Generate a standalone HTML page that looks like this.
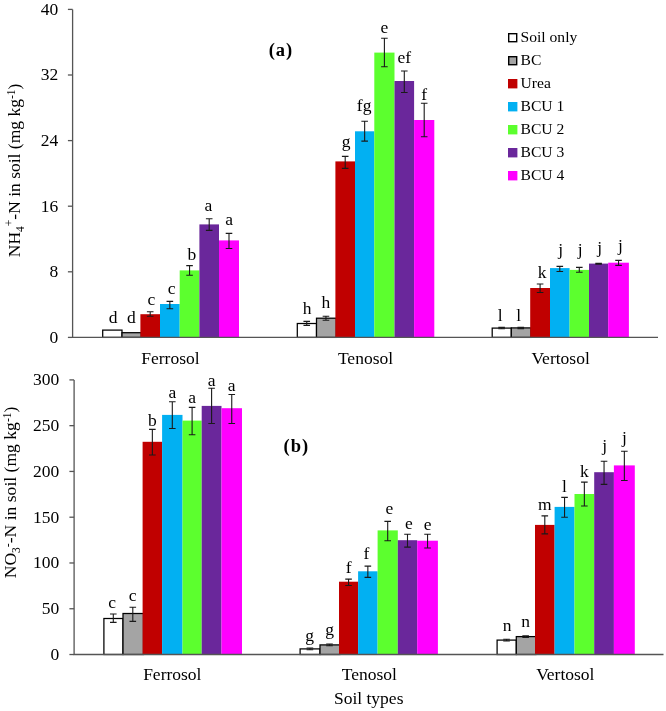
<!DOCTYPE html>
<html><head><meta charset="utf-8"><style>
html,body{margin:0;padding:0;background:#fff;}
body{width:666px;height:711px;overflow:hidden;}
svg{display:block;font-family:"Liberation Serif",serif;will-change:transform;}
</style></head><body>
<svg width="666" height="711" viewBox="0 0 666 711">
<rect width="666" height="711" fill="#fff"/>
<g font-size="17.5" fill="#000">
<rect x="102.70" y="330.10" width="19.30" height="7.30" fill="#FFFFFF" stroke="#000" stroke-width="1.25"/>
<rect x="122.00" y="332.70" width="19.30" height="4.70" fill="#A4A4A4" stroke="#000" stroke-width="1.25"/>
<rect x="140.40" y="314.20" width="19.60" height="23.20" fill="#C00000"/>
<rect x="160.00" y="304.00" width="19.70" height="33.40" fill="#02B0F2"/>
<rect x="179.70" y="270.40" width="19.70" height="67.00" fill="#5CFF2E"/>
<rect x="199.40" y="224.40" width="19.60" height="113.00" fill="#6A279B"/>
<rect x="219.00" y="240.40" width="20.00" height="97.00" fill="#FF00FF"/>
<path d="M150.20 311.80V316.20M146.90 311.80H153.50M146.90 316.20H153.50" stroke="#1a1a1a" stroke-width="1.1" fill="none"/>
<path d="M169.85 301.40V308.80M166.55 301.40H173.15M166.55 308.80H173.15" stroke="#1a1a1a" stroke-width="1.1" fill="none"/>
<path d="M189.55 265.60V275.20M186.25 265.60H192.85M186.25 275.20H192.85" stroke="#1a1a1a" stroke-width="1.1" fill="none"/>
<path d="M209.20 218.80V230.40M205.90 218.80H212.50M205.90 230.40H212.50" stroke="#1a1a1a" stroke-width="1.1" fill="none"/>
<path d="M229.00 233.40V248.50M225.70 233.40H232.30M225.70 248.50H232.30" stroke="#1a1a1a" stroke-width="1.1" fill="none"/>
<rect x="297.30" y="323.50" width="19.20" height="13.90" fill="#FFFFFF" stroke="#000" stroke-width="1.25"/>
<rect x="316.50" y="318.20" width="19.80" height="19.20" fill="#A4A4A4" stroke="#000" stroke-width="1.25"/>
<rect x="335.40" y="161.40" width="19.60" height="176.00" fill="#C00000"/>
<rect x="355.00" y="131.30" width="19.30" height="206.10" fill="#02B0F2"/>
<rect x="374.30" y="52.60" width="20.20" height="284.80" fill="#5CFF2E"/>
<rect x="394.50" y="81.00" width="19.60" height="256.40" fill="#6A279B"/>
<rect x="414.10" y="120.00" width="20.20" height="217.40" fill="#FF00FF"/>
<path d="M306.75 321.40V325.40M303.45 321.40H310.05M303.45 325.40H310.05" stroke="#1a1a1a" stroke-width="1.1" fill="none"/>
<path d="M325.95 316.30V320.20M322.65 316.30H329.25M322.65 320.20H329.25" stroke="#1a1a1a" stroke-width="1.1" fill="none"/>
<path d="M345.20 156.40V168.40M341.90 156.40H348.50M341.90 168.40H348.50" stroke="#1a1a1a" stroke-width="1.1" fill="none"/>
<path d="M364.65 121.20V141.10M361.35 121.20H367.95M361.35 141.10H367.95" stroke="#1a1a1a" stroke-width="1.1" fill="none"/>
<path d="M384.40 38.20V66.70M381.10 38.20H387.70M381.10 66.70H387.70" stroke="#1a1a1a" stroke-width="1.1" fill="none"/>
<path d="M404.30 71.00V92.50M401.00 71.00H407.60M401.00 92.50H407.60" stroke="#1a1a1a" stroke-width="1.1" fill="none"/>
<path d="M424.20 103.30V136.80M420.90 103.30H427.50M420.90 136.80H427.50" stroke="#1a1a1a" stroke-width="1.1" fill="none"/>
<rect x="492.20" y="328.10" width="19.10" height="9.30" fill="#FFFFFF" stroke="#000" stroke-width="1.25"/>
<rect x="511.30" y="327.90" width="19.80" height="9.50" fill="#A4A4A4" stroke="#000" stroke-width="1.25"/>
<rect x="530.20" y="288.00" width="19.80" height="49.40" fill="#C00000"/>
<rect x="550.00" y="268.10" width="19.60" height="69.30" fill="#02B0F2"/>
<rect x="569.60" y="269.90" width="19.40" height="67.50" fill="#5CFF2E"/>
<rect x="589.00" y="263.60" width="19.20" height="73.80" fill="#6A279B"/>
<rect x="608.20" y="262.70" width="20.70" height="74.70" fill="#FF00FF"/>
<path d="M501.60 327.40V328.80M498.30 327.40H504.90M498.30 328.80H504.90" stroke="#1a1a1a" stroke-width="1.1" fill="none"/>
<path d="M520.75 327.40V328.60M517.45 327.40H524.05M517.45 328.60H524.05" stroke="#1a1a1a" stroke-width="1.1" fill="none"/>
<path d="M540.10 284.00V292.50M536.80 284.00H543.40M536.80 292.50H543.40" stroke="#1a1a1a" stroke-width="1.1" fill="none"/>
<path d="M559.80 266.40V271.50M556.50 266.40H563.10M556.50 271.50H563.10" stroke="#1a1a1a" stroke-width="1.1" fill="none"/>
<path d="M579.30 267.40V272.20M576.00 267.40H582.60M576.00 272.20H582.60" stroke="#1a1a1a" stroke-width="1.1" fill="none"/>
<path d="M598.60 263.20V264.20M595.30 263.20H601.90M595.30 264.20H601.90" stroke="#1a1a1a" stroke-width="1.1" fill="none"/>
<path d="M618.55 260.40V265.40M615.25 260.40H621.85M615.25 265.40H621.85" stroke="#1a1a1a" stroke-width="1.1" fill="none"/>
<text x="113.10" y="323.00" text-anchor="middle" font-size="17.5">d</text>
<text x="131.25" y="323.00" text-anchor="middle" font-size="17.5">d</text>
<text x="151.30" y="305.00" text-anchor="middle" font-size="17.5">c</text>
<text x="171.55" y="294.30" text-anchor="middle" font-size="17.5">c</text>
<text x="191.85" y="259.90" text-anchor="middle" font-size="17.5">b</text>
<text x="208.30" y="211.20" text-anchor="middle" font-size="17.5">a</text>
<text x="229.10" y="225.40" text-anchor="middle" font-size="17.5">a</text>
<text x="307.15" y="313.90" text-anchor="middle" font-size="17.5">h</text>
<text x="325.95" y="307.60" text-anchor="middle" font-size="17.5">h</text>
<text x="346.00" y="147.00" text-anchor="middle" font-size="17.5">g</text>
<text x="364.15" y="111.20" text-anchor="middle" font-size="17.5">fg</text>
<text x="384.40" y="32.70" text-anchor="middle" font-size="17.5">e</text>
<text x="404.30" y="62.60" text-anchor="middle" font-size="17.5">ef</text>
<text x="424.20" y="99.70" text-anchor="middle" font-size="17.5">f</text>
<text x="500.15" y="320.80" text-anchor="middle" font-size="17.5">l</text>
<text x="518.65" y="320.80" text-anchor="middle" font-size="17.5">l</text>
<text x="542.00" y="278.40" text-anchor="middle" font-size="17.5">k</text>
<text x="560.60" y="254.70" text-anchor="middle" font-size="17.5">j</text>
<text x="580.30" y="255.40" text-anchor="middle" font-size="17.5">j</text>
<text x="599.60" y="253.40" text-anchor="middle" font-size="17.5">j</text>
<text x="620.55" y="251.40" text-anchor="middle" font-size="17.5">j</text>
<path d="M72.6 9.4V337.4H658.0" stroke="#555555" stroke-width="1.3" fill="none"/>
<path d="M67.90 9.40H72.6" stroke="#555555" stroke-width="1.3"/>
<path d="M67.90 75.00H72.6" stroke="#555555" stroke-width="1.3"/>
<path d="M67.90 140.60H72.6" stroke="#555555" stroke-width="1.3"/>
<path d="M67.90 206.20H72.6" stroke="#555555" stroke-width="1.3"/>
<path d="M67.90 271.80H72.6" stroke="#555555" stroke-width="1.3"/>
<path d="M67.90 337.40H72.6" stroke="#555555" stroke-width="1.3"/>
<text x="58.2" y="14.80" text-anchor="end">40</text>
<text x="58.2" y="80.40" text-anchor="end">32</text>
<text x="58.2" y="146.00" text-anchor="end">24</text>
<text x="58.2" y="211.60" text-anchor="end">16</text>
<text x="58.2" y="277.20" text-anchor="end">8</text>
<text x="58.2" y="342.80" text-anchor="end">0</text>
<rect x="103.90" y="618.50" width="19.10" height="36.00" fill="#FFFFFF" stroke="#000" stroke-width="1.25"/>
<rect x="123.00" y="613.50" width="20.50" height="41.00" fill="#A4A4A4" stroke="#000" stroke-width="1.25"/>
<rect x="142.60" y="441.80" width="19.50" height="212.70" fill="#C00000"/>
<rect x="162.10" y="414.90" width="20.40" height="239.60" fill="#02B0F2"/>
<rect x="182.50" y="420.60" width="19.20" height="233.90" fill="#5CFF2E"/>
<rect x="201.70" y="405.90" width="19.80" height="248.60" fill="#6A279B"/>
<rect x="221.50" y="408.20" width="20.50" height="246.30" fill="#FF00FF"/>
<path d="M113.30 614.00V622.40M110.00 614.00H116.60M110.00 622.40H116.60" stroke="#1a1a1a" stroke-width="1.1" fill="none"/>
<path d="M132.80 607.20V621.40M129.50 607.20H136.10M129.50 621.40H136.10" stroke="#1a1a1a" stroke-width="1.1" fill="none"/>
<path d="M152.35 429.40V455.00M149.05 429.40H155.65M149.05 455.00H155.65" stroke="#1a1a1a" stroke-width="1.1" fill="none"/>
<path d="M172.30 401.70V428.50M169.00 401.70H175.60M169.00 428.50H175.60" stroke="#1a1a1a" stroke-width="1.1" fill="none"/>
<path d="M192.10 407.40V434.70M188.80 407.40H195.40M188.80 434.70H195.40" stroke="#1a1a1a" stroke-width="1.1" fill="none"/>
<path d="M211.60 388.30V423.50M208.30 388.30H214.90M208.30 423.50H214.90" stroke="#1a1a1a" stroke-width="1.1" fill="none"/>
<path d="M231.75 394.50V423.50M228.45 394.50H235.05M228.45 423.50H235.05" stroke="#1a1a1a" stroke-width="1.1" fill="none"/>
<rect x="300.10" y="648.90" width="19.90" height="5.60" fill="#FFFFFF" stroke="#000" stroke-width="1.25"/>
<rect x="320.00" y="644.90" width="19.90" height="9.60" fill="#A4A4A4" stroke="#000" stroke-width="1.25"/>
<rect x="339.00" y="581.70" width="19.10" height="72.80" fill="#C00000"/>
<rect x="358.10" y="571.30" width="19.50" height="83.20" fill="#02B0F2"/>
<rect x="377.60" y="530.40" width="20.20" height="124.10" fill="#5CFF2E"/>
<rect x="397.80" y="540.20" width="19.40" height="114.30" fill="#6A279B"/>
<rect x="417.20" y="540.70" width="20.70" height="113.80" fill="#FF00FF"/>
<path d="M309.90 648.00V649.80M306.60 648.00H313.20M306.60 649.80H313.20" stroke="#1a1a1a" stroke-width="1.1" fill="none"/>
<path d="M329.50 644.00V645.80M326.20 644.00H332.80M326.20 645.80H332.80" stroke="#1a1a1a" stroke-width="1.1" fill="none"/>
<path d="M348.55 579.10V585.50M345.25 579.10H351.85M345.25 585.50H351.85" stroke="#1a1a1a" stroke-width="1.1" fill="none"/>
<path d="M367.85 566.10V577.40M364.55 566.10H371.15M364.55 577.40H371.15" stroke="#1a1a1a" stroke-width="1.1" fill="none"/>
<path d="M387.70 521.40V540.70M384.40 521.40H391.00M384.40 540.70H391.00" stroke="#1a1a1a" stroke-width="1.1" fill="none"/>
<path d="M407.50 534.20V547.10M404.20 534.20H410.80M404.20 547.10H410.80" stroke="#1a1a1a" stroke-width="1.1" fill="none"/>
<path d="M427.55 534.20V548.00M424.25 534.20H430.85M424.25 548.00H430.85" stroke="#1a1a1a" stroke-width="1.1" fill="none"/>
<rect x="497.10" y="640.10" width="19.20" height="14.40" fill="#FFFFFF" stroke="#000" stroke-width="1.25"/>
<rect x="516.30" y="636.60" width="19.60" height="17.90" fill="#A4A4A4" stroke="#000" stroke-width="1.25"/>
<rect x="535.00" y="524.90" width="19.60" height="129.60" fill="#C00000"/>
<rect x="554.60" y="506.90" width="19.90" height="147.60" fill="#02B0F2"/>
<rect x="574.50" y="494.00" width="19.70" height="160.50" fill="#5CFF2E"/>
<rect x="594.20" y="472.20" width="19.70" height="182.30" fill="#6A279B"/>
<rect x="613.90" y="465.40" width="20.90" height="189.10" fill="#FF00FF"/>
<path d="M506.55 639.20V641.00M503.25 639.20H509.85M503.25 641.00H509.85" stroke="#1a1a1a" stroke-width="1.1" fill="none"/>
<path d="M525.65 635.80V637.40M522.35 635.80H528.95M522.35 637.40H528.95" stroke="#1a1a1a" stroke-width="1.1" fill="none"/>
<path d="M544.80 515.90V533.90M541.50 515.90H548.10M541.50 533.90H548.10" stroke="#1a1a1a" stroke-width="1.1" fill="none"/>
<path d="M564.55 497.40V517.30M561.25 497.40H567.85M561.25 517.30H567.85" stroke="#1a1a1a" stroke-width="1.1" fill="none"/>
<path d="M584.35 482.10V506.00M581.05 482.10H587.65M581.05 506.00H587.65" stroke="#1a1a1a" stroke-width="1.1" fill="none"/>
<path d="M604.05 461.30V484.40M600.75 461.30H607.35M600.75 484.40H607.35" stroke="#1a1a1a" stroke-width="1.1" fill="none"/>
<path d="M624.35 451.20V480.50M621.05 451.20H627.65M621.05 480.50H627.65" stroke="#1a1a1a" stroke-width="1.1" fill="none"/>
<text x="112.25" y="608.40" text-anchor="middle" font-size="17.5">c</text>
<text x="132.60" y="600.80" text-anchor="middle" font-size="17.5">c</text>
<text x="152.35" y="425.60" text-anchor="middle" font-size="17.5">b</text>
<text x="172.30" y="398.10" text-anchor="middle" font-size="17.5">a</text>
<text x="192.10" y="403.20" text-anchor="middle" font-size="17.5">a</text>
<text x="211.60" y="386.00" text-anchor="middle" font-size="17.5">a</text>
<text x="231.75" y="391.40" text-anchor="middle" font-size="17.5">a</text>
<text x="309.70" y="641.00" text-anchor="middle" font-size="17.5">g</text>
<text x="329.50" y="634.80" text-anchor="middle" font-size="17.5">g</text>
<text x="348.55" y="573.00" text-anchor="middle" font-size="17.5">f</text>
<text x="366.35" y="558.90" text-anchor="middle" font-size="17.5">f</text>
<text x="389.35" y="513.90" text-anchor="middle" font-size="17.5">e</text>
<text x="408.80" y="528.70" text-anchor="middle" font-size="17.5">e</text>
<text x="427.55" y="529.90" text-anchor="middle" font-size="17.5">e</text>
<text x="507.15" y="630.60" text-anchor="middle" font-size="17.5">n</text>
<text x="525.65" y="626.50" text-anchor="middle" font-size="17.5">n</text>
<text x="544.80" y="510.30" text-anchor="middle" font-size="17.5">m</text>
<text x="564.55" y="491.80" text-anchor="middle" font-size="17.5">l</text>
<text x="584.35" y="477.20" text-anchor="middle" font-size="17.5">k</text>
<text x="604.70" y="450.80" text-anchor="middle" font-size="17.5">j</text>
<text x="624.55" y="442.90" text-anchor="middle" font-size="17.5">j</text>
<path d="M74.1 379.9V654.5H663.5" stroke="#555555" stroke-width="1.3" fill="none"/>
<path d="M69.40 379.90H74.1" stroke="#555555" stroke-width="1.3"/>
<path d="M69.40 425.67H74.1" stroke="#555555" stroke-width="1.3"/>
<path d="M69.40 471.44H74.1" stroke="#555555" stroke-width="1.3"/>
<path d="M69.40 517.21H74.1" stroke="#555555" stroke-width="1.3"/>
<path d="M69.40 562.98H74.1" stroke="#555555" stroke-width="1.3"/>
<path d="M69.40 608.75H74.1" stroke="#555555" stroke-width="1.3"/>
<path d="M69.40 654.52H74.1" stroke="#555555" stroke-width="1.3"/>
<text x="59.2" y="385.30" text-anchor="end">300</text>
<text x="59.2" y="431.07" text-anchor="end">250</text>
<text x="59.2" y="476.84" text-anchor="end">200</text>
<text x="59.2" y="522.61" text-anchor="end">150</text>
<text x="59.2" y="568.38" text-anchor="end">100</text>
<text x="59.2" y="614.15" text-anchor="end">50</text>
<text x="59.2" y="659.92" text-anchor="end">0</text>
<text x="170.4" y="363.6" text-anchor="middle">Ferrosol</text>
<text x="365.5" y="363.6" text-anchor="middle">Tenosol</text>
<text x="560.6" y="363.6" text-anchor="middle">Vertosol</text>
<text x="172.3" y="680.4" text-anchor="middle">Ferrosol</text>
<text x="369.3" y="680.4" text-anchor="middle">Tenosol</text>
<text x="565.3" y="680.4" text-anchor="middle">Vertosol</text>
<text x="368.7" y="703.5" text-anchor="middle">Soil types</text>
<text x="281.0" y="55.8" text-anchor="middle" font-weight="bold" font-size="18.5" letter-spacing="1">(a)</text>
<text x="296.4" y="452.4" text-anchor="middle" font-weight="bold" font-size="18.5" letter-spacing="1">(b)</text>
<text transform="translate(20.3,257.2) rotate(-90)" font-size="17.5">NH<tspan font-size="11.5" dy="4">4</tspan><tspan font-size="11.5" dy="-11">+</tspan><tspan dy="7">-N in soil (mg kg</tspan><tspan font-size="11.5" dy="-5.5">-1</tspan><tspan dy="5.5">)</tspan></text>
<text transform="translate(16.2,578.3) rotate(-90)" font-size="17.6">NO<tspan font-size="11.5" dy="4">3</tspan><tspan font-size="11.5" dy="-9.5">-</tspan><tspan dy="5.5">-N in soil (mg kg</tspan><tspan font-size="11.5" dy="-5.5">-1</tspan><tspan dy="5.5">)</tspan></text>
</g>
<g font-size="15.6" fill="#000">
<rect x="508.7" y="33.7" width="8" height="8" fill="#FFFFFF" stroke="#000" stroke-width="1.4"/>
<text x="520.5" y="42.0">Soil only</text>
<rect x="508.7" y="56.7" width="8" height="8" fill="#A4A4A4" stroke="#000" stroke-width="1.4"/>
<text x="520.5" y="65.0">BC</text>
<rect x="508" y="79.0" width="9.4" height="9.4" fill="#C00000"/>
<text x="520.5" y="88.0">Urea</text>
<rect x="508" y="102.0" width="9.4" height="9.4" fill="#02B0F2"/>
<text x="520.5" y="111.0">BCU 1</text>
<rect x="508" y="125.0" width="9.4" height="9.4" fill="#5CFF2E"/>
<text x="520.5" y="134.0">BCU 2</text>
<rect x="508" y="148.0" width="9.4" height="9.4" fill="#6A279B"/>
<text x="520.5" y="157.0">BCU 3</text>
<rect x="508" y="171.0" width="9.4" height="9.4" fill="#FF00FF"/>
<text x="520.5" y="180.0">BCU 4</text>
</g>
</svg></body></html>
